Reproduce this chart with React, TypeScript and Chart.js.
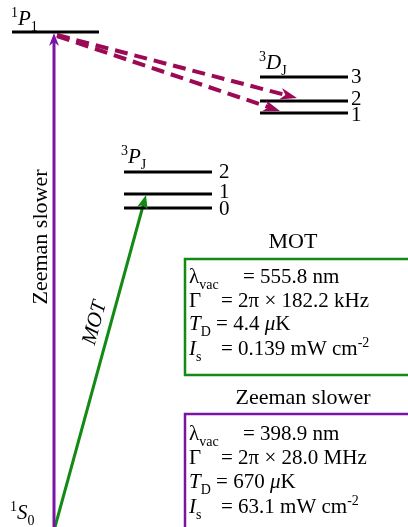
import React, { useEffect, useRef } from "react";
import { Chart, registerables } from "chart.js";

Chart.register(...registerables);

// ---- Data (layout units: x 0..408, y 0..527 top-down) ----
const levelNames = ["1P1", "3D3", "3D2", "3D1", "3P2", "3P1", "3P0"];
const levelStart = [12, 260, 260, 260, 124, 124, 124];
const levelEnd = [99, 348, 348, 348, 212, 212, 212];
const levelY = [32, 77, 101, 113, 172, 194, 208];

const jLabelsD = ["3", "2", "1"];
const jLabelsP = ["2", "1", "0"];

// transitions: [from x, from y] -> [to x, to y]
const zeemanFrom = [54, 527];
const zeemanTo = [54, 33];
const motFrom = [55, 527];
const motTo = [146, 195];
const decayUpperFrom = [57, 35];
const decayUpperTo = [297, 98];
const decayLowerFrom = [57, 36];
const decayLowerTo = [280, 111];

const motParams = ["555.8 nm", "2π × 182.2 kHz", "4.4 ", "0.139 mW cm"];
const zsParams = ["398.9 nm", "2π × 28.0 MHz", "670 ", "63.1 mW cm"];

const PURPLE = "#7a14a2";
const GREEN = "#138a13";
const MAGENTA = "#9c0a55";
const FONT = '"Liberation Serif", "DejaVu Serif", serif';

type Seg = { t: string; k?: "i" | "sub" | "sup" | "n" };

function drawRich(ctx: CanvasRenderingContext2D, segs: Seg[], x: number, y: number, size: number) {
  let cx = x;
  ctx.textBaseline = "alphabetic";
  ctx.textAlign = "left";
  for (const s of segs) {
    let f = `${size}px ${FONT}`;
    let dy = 0;
    if (s.k === "i") f = `italic ${size}px ${FONT}`;
    if (s.k === "sub") {
      f = `${Math.round(size * 0.68)}px ${FONT}`;
      dy = size * 0.3;
    }
    if (s.k === "sup") {
      f = `${Math.round(size * 0.68)}px ${FONT}`;
      dy = -size * 0.38;
    }
    ctx.font = f;
    ctx.fillText(s.t, cx, y + dy);
    cx += ctx.measureText(s.t).width;
  }
}

function arrowHead(ctx: CanvasRenderingContext2D, x0: number, y0: number, x1: number, y1: number, len: number, half: number, notch: number, color: string) {
  const a = Math.atan2(y1 - y0, x1 - x0);
  const c = Math.cos(a), s = Math.sin(a);
  const p = (u: number, v: number) => [x1 + u * c - v * s, y1 + u * s + v * c];
  const L = p(-len, -half), R = p(-len, half), N = p(-len + notch, 0);
  ctx.save();
  ctx.fillStyle = color;
  ctx.beginPath();
  ctx.moveTo(x1, y1);
  ctx.lineTo(L[0], L[1]);
  ctx.lineTo(N[0], N[1]);
  ctx.lineTo(R[0], R[1]);
  ctx.closePath();
  ctx.fill();
  ctx.restore();
}

const arrowPlugin = {
  id: "arrowheads",
  afterDatasetsDraw(chart: any) {
    const ctx = chart.ctx as CanvasRenderingContext2D;
    chart.data.datasets.forEach((ds: any, i: number) => {
      if (!ds.arrow) return;
      const pts = chart.getDatasetMeta(i).data;
      const a = pts[0], b = pts[pts.length - 1];
      arrowHead(ctx, a.x, a.y, b.x, b.y, ds.arrow.len, ds.arrow.half, ds.arrow.notch, ds.borderColor);
    });
  },
};

const textPlugin = {
  id: "texts",
  afterDraw(chart: any) {
    const ctx = chart.ctx as CanvasRenderingContext2D;
    const xs = chart.scales.x, ys = chart.scales.y;
    const X = (v: number) => xs.getPixelForValue(v);
    const Y = (v: number) => ys.getPixelForValue(v);
    ctx.save();
    ctx.fillStyle = "#000";
    const sz = 21;
    // level term symbols
    drawRich(ctx, [{ t: "1", k: "sup" }, { t: "P", k: "i" }, { t: "1", k: "sub" }], X(11), Y(25), sz);
    drawRich(ctx, [{ t: "3", k: "sup" }, { t: "D", k: "i" }, { t: "J", k: "sub" }], X(259), Y(69), sz);
    drawRich(ctx, [{ t: "3", k: "sup" }, { t: "P", k: "i" }, { t: "J", k: "sub" }], X(121), Y(163), sz);
    drawRich(ctx, [{ t: "1", k: "sup" }, { t: "S", k: "i" }, { t: "0", k: "sub" }], X(10), Y(519), sz);
    // J labels
    ctx.font = `${sz}px ${FONT}`;
    ctx.textBaseline = "middle";
    ctx.textAlign = "left";
    const dY = [77, 99, 115];
    jLabelsD.forEach((t, i) => ctx.fillText(t, X(351), Y(dY[i])));
    const pY = [172, 192, 209];
    jLabelsP.forEach((t, i) => ctx.fillText(t, X(219), Y(pY[i])));

    // rotated labels
    ctx.save();
    ctx.translate(X(41), Y(237));
    ctx.rotate(-Math.PI / 2);
    ctx.font = `22px ${FONT}`;
    ctx.textAlign = "center";
    ctx.textBaseline = "middle";
    ctx.fillText("Zeeman slower", 0, 0);
    ctx.restore();

    ctx.save();
    const ang = Math.atan2(Y(motTo[1]) - Y(motFrom[1]), X(motTo[0]) - X(motFrom[0]));
    ctx.translate(X(95), Y(323));
    ctx.rotate(ang);
    ctx.font = `italic 21px ${FONT}`;
    ctx.textAlign = "center";
    ctx.textBaseline = "middle";
    ctx.fillText("MOT", 0, 0);
    ctx.restore();

    // parameter boxes
    const box = (title: string, titleX: number, titleY: number, top: number, bottom: number, color: string, vals: string[], rows: number[]) => {
      ctx.font = `22px ${FONT}`;
      ctx.textAlign = "center";
      ctx.textBaseline = "middle";
      ctx.fillStyle = "#000";
      ctx.fillText(title, X(titleX), Y(titleY));
      ctx.strokeStyle = color;
      ctx.lineWidth = 2.5;
      ctx.beginPath();
      ctx.moveTo(X(420), Y(top));
      ctx.lineTo(X(185), Y(top));
      ctx.lineTo(X(185), Y(bottom));
      ctx.lineTo(X(420), Y(bottom));
      ctx.stroke();
      const lx = X(189);
      drawRich(ctx, [{ t: "λ" }, { t: "vac", k: "sub" }], lx, Y(rows[0]), sz);
      drawRich(ctx, [{ t: "= " + vals[0] }], X(243), Y(rows[0]), sz);
      drawRich(ctx, [{ t: "Γ" }], lx, Y(rows[1]), sz);
      drawRich(ctx, [{ t: "= " + vals[1] }], X(221), Y(rows[1]), sz);
      drawRich(ctx, [{ t: "T", k: "i" }, { t: "D", k: "sub" }, { t: " = " + vals[2] }, { t: "μ", k: "i" }, { t: "K" }], lx, Y(rows[2]), sz);
      drawRich(ctx, [{ t: "I", k: "i" }, { t: "s", k: "sub" }], lx, Y(rows[3]), sz);
      drawRich(ctx, [{ t: "= " + vals[3] }, { t: "-2", k: "sup" }], X(221), Y(rows[3]), sz);
    };
    box("MOT", 293, 242, 259, 375, GREEN, motParams, [283, 307, 330, 355]);
    box("Zeeman slower", 303, 398, 414, 600, PURPLE, zsParams, [440, 464, 488, 513]);
    ctx.restore();
  },
};

function seg(from: number[], to: number[]) {
  return [
    { x: from[0], y: from[1] },
    { x: to[0], y: to[1] },
  ];
}

export default function App() {
  const ref = useRef<HTMLCanvasElement>(null);
  useEffect(() => {
    document.body.style.margin = "0";
    const levelSets = levelNames.map((name, i) => ({
      label: name,
      data: seg([levelStart[i], levelY[i]], [levelEnd[i], levelY[i]]),
      borderColor: "#000",
      borderWidth: 3,
      pointRadius: 0,
      clip: false as any,
    }));
    const chart = new Chart(ref.current!, {
      type: "line",
      data: {
        datasets: [
          ...levelSets,
          { label: "Zeeman", data: seg(zeemanFrom, [zeemanTo[0], zeemanTo[1] + 8]), borderColor: PURPLE, borderWidth: 3, pointRadius: 0, clip: false as any },
          { label: "ZeemanHead", data: seg(zeemanFrom, zeemanTo), borderColor: PURPLE, borderWidth: 0, pointRadius: 0, showLine: false, arrow: { len: 13, half: 5, notch: 4 } } as any,
          { label: "MOT", data: seg(motFrom, [motTo[0] - 2.2, motTo[1] + 8]), borderColor: GREEN, borderWidth: 3, pointRadius: 0, clip: false as any },
          { label: "MOTHead", data: seg(motFrom, motTo), borderColor: GREEN, borderWidth: 0, pointRadius: 0, showLine: false, arrow: { len: 14, half: 5.5, notch: 4 } } as any,
          { label: "decay1", data: seg(decayUpperFrom, [decayUpperTo[0] - 10, decayUpperTo[1] - 2.6]), borderColor: MAGENTA, borderWidth: 4, borderDash: [13, 7], pointRadius: 0 },
          { label: "decay1Head", data: seg(decayUpperFrom, decayUpperTo), borderColor: MAGENTA, borderWidth: 0, pointRadius: 0, showLine: false, arrow: { len: 17, half: 6, notch: 5 } } as any,
          { label: "decay2", data: seg(decayLowerFrom, [decayLowerTo[0] - 10, decayLowerTo[1] - 3.4]), borderColor: MAGENTA, borderWidth: 4, borderDash: [13, 7], pointRadius: 0 },
          { label: "decay2Head", data: seg(decayLowerFrom, decayLowerTo), borderColor: MAGENTA, borderWidth: 0, pointRadius: 0, showLine: false, arrow: { len: 17, half: 6, notch: 5 } } as any,
        ],
      },
      options: {
        animation: false,
        responsive: false,
        maintainAspectRatio: false,
        devicePixelRatio: 1,
        layout: { padding: 0 },
        plugins: { legend: { display: false }, tooltip: { enabled: false } },
        elements: { line: { tension: 0, borderCapStyle: "butt" } },
        scales: {
          x: { type: "linear", display: false, min: 0, max: 408 },
          y: { type: "linear", display: false, min: 0, max: 527, reverse: true },
        },
      },
      plugins: [arrowPlugin, textPlugin],
    });
    return () => chart.destroy();
  }, []);
  return (
    <div style={{ position: "fixed", left: 0, top: 0, width: 408, height: 527, background: "#fff" }}>
      <canvas ref={ref} width={408} height={527} style={{ display: "block", width: 408, height: 527 }} />
    </div>
  );
}
